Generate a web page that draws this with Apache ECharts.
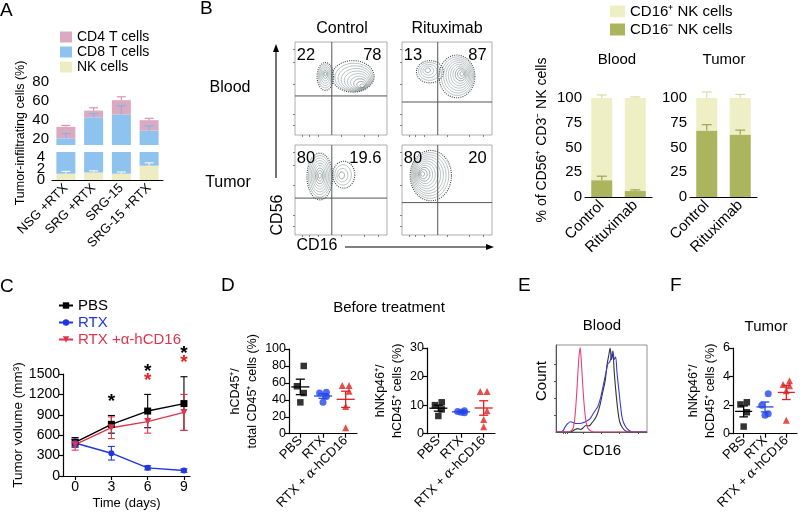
<!DOCTYPE html>
<html><head><meta charset="utf-8">
<script src="https://cdn.jsdelivr.net/npm/echarts@6.0.0/dist/echarts.min.js"></script>
<style>html,body{margin:0;padding:0;background:#fff;}#chart{width:800px;height:512px;}</style>
</head><body><div id="chart"></div>
<script>
// ===== Panel A: tumor-infiltrating cells (stacked bars, broken axis)
const aCategories = ['NSG +RTX', 'SRG +RTX', 'SRG-15', 'SRG-15 +RTX'];
const aNK = [1.1, 1.3, 1.1, 2.5];
const aCD8 = [19.9, 41.7, 44.9, 26.5];
const aCD4 = [12, 7, 15, 11];
const aNKErr = [0.4, 0.3, 0.3, 0.5];
const aCD8Err = [5, 4, 9, 5];
const aCD4Err = [1.5, 3, 3.5, 2];
const aUpperTicks = [20, 40, 60, 80];
const aLowerTicks = [0, 2, 4];

// ===== Panel B: flow cytometry plots (order: blood-control, blood-rituximab, tumor-control, tumor-rituximab)
const bFlowCols = ['Control', 'Rituximab'];
const bFlowRows = ['Blood', 'Tumor'];
const bQuadLeft = [22, 13, 80, 80];
const bQuadRight = [78, 87, 19.6, 20];
const bGateX = [40, 39.7, 40, 39.7];
const bGateY = [42, 35.5, 41, 36];
// contour blobs: [centerX, centerY, radiusX, radiusY, levels, coreX, coreY]
const bContoursBloodCtrl = [[33, 63, 9, 15, 7, 33, 66], [63, 63, 23, 17, 10, 74, 52]];
const bContoursBloodRtx = [[31, 68, 15, 12, 5, 28, 70], [61, 63, 20, 23, 10, 67, 66]];
const bContoursTumorCtrl = [[27, 65, 14, 26, 9, 27, 66], [53, 67, 12, 15, 4, 50, 66]];
const bContoursTumorRtx = [[32, 66, 23, 28, 11, 22, 68]];

// ===== Panel B: CD16 subsets bars
const bCategories = ['Control', 'Rituximab'];
const bBloodNeg = [17, 6];
const bBloodNegErr = [4, 1.2];
const bBloodPos = [83, 94];
const bBloodPosErr = [3, 1];
const bTumorNeg = [67, 63];
const bTumorNegErr = [6, 4.5];
const bTumorPos = [33, 37];
const bTumorPosErr = [6, 3.5];
const bTicks = [0, 25, 50, 75, 100];

// ===== Panel C: tumor volume
const cDays = [0, 3, 6, 9];
const cPBS = [495, 760, 955, 1065];
const cPBSErr = [70, 130, 245, 395];
const cRTX = [485, 335, 120, 80];
const cRTXErr = [55, 100, 30, 25];
const cAnti = [460, 710, 800, 935];
const cAntiErr = [80, 160, 170, 265];
const cSigPBS = [0, 1, 1, 1];
const cSigAnti = [0, 0, 1, 1];
const cTicks = [0, 3, 6, 9];

// ===== Panel D / F: dot plots
const dGroups = ['PBS', 'RTX', 'RTX + α-hCD16'];
const dLeftPBS = [80, 56, 48, 37];
const dLeftRTX = [49, 48, 44, 37];
const dLeftAnti = [57, 57, 50, 32, 7];
const dRightPBS = [11, 10, 8.5, 6.2];
const dRightRTX = [7.3, 7.8, 8, 7.5];
const dRightAnti = [14.8, 14.8, 8, 5, 2.4];
const fPBS = [2.2, 2.05, 1.5, 0.5];
const fRTX = [2.8, 2.0, 1.4, 1.3];
const fAnti = [3.7, 3.45, 3.35, 3.0, 0.95];

// ===== Panel E: CD16 histograms (x: fluorescence 0-100, y: normalized count)
const eIsotype = [[0,0],[12,0],[16,0.01],[19,0.05],[21,0.2],[23,0.5],[25,0.85],[26.5,0.99],[28,0.8],[30,0.45],[32,0.2],[34,0.07],[37,0.02],[42,0],[100,0]];
const eRTX = [[0,0],[5,0],[8,0.02],[10,0.06],[13,0.1],[16,0.12],[19,0.11],[22,0.1],[26,0.1],[30,0.11],[34,0.13],[37,0.15],[40,0.2],[43,0.25],[46,0.3],[49,0.4],[52,0.55],[55,0.7],[57,0.8],[59,0.82],[61,0.9],[62.5,0.95],[64,0.85],[65.5,0.88],[67,0.7],[69,0.5],[71,0.3],[73,0.15],[76,0.07],[80,0.02],[85,0],[100,0]];
const ePBS = [[0,0],[15,0],[18,0.01],[21,0.03],[24,0.04],[27,0.03],[30,0.05],[33,0.08],[36,0.07],[39,0.1],[42,0.14],[45,0.2],[48,0.3],[51,0.45],[54,0.6],[56,0.78],[58,0.9],[59.5,0.98],[61,0.85],[62.5,0.92],[64,0.7],[66,0.45],[68,0.25],[70,0.12],[73,0.05],[77,0.01],[82,0],[100,0]];

const FONT = 'Liberation Sans, Arial, Helvetica, sans-serif';
const grids = [], xAxes = [], yAxes = [], series = [];
function addGrid(g, xa, ya) {
  grids.push(Object.assign({containLabel: false}, g));
  const gi = grids.length - 1;
  xa.gridIndex = gi; ya.gridIndex = gi;
  xAxes.push(xa); yAxes.push(ya);
  return gi;
}
const LINE = {onZero: false, lineStyle: {color: '#000', width: 1.2}};
const TICK = {length: 4, lineStyle: {color: '#000', width: 1.2}};
function lab(fs, extra) { return Object.assign({color: '#000', fontSize: fs, fontFamily: FONT, margin: 3, hideOverlap: false}, extra || {}); }
function tick(extra) { return Object.assign({}, TICK, extra || {}); }
const NOSPLIT = {show: false};

function errRender(color, capHalf, upOnly, lw) {
  return function (params, api) {
    const x = api.value(0), y = api.value(1), e = api.value(2);
    const p0 = api.coord([x, y]);
    const p1 = api.coord([x, y + e]);
    const p2 = upOnly ? p0 : api.coord([x, y - e]);
    const st = {stroke: color, lineWidth: lw || 1.2};
    const ch = [
      {type: 'line', shape: {x1: p0[0], y1: p2[1], x2: p0[0], y2: p1[1]}, style: st},
      {type: 'line', shape: {x1: p0[0] - capHalf, y1: p1[1], x2: p0[0] + capHalf, y2: p1[1]}, style: st}
    ];
    if (!upOnly) ch.push({type: 'line', shape: {x1: p0[0] - capHalf, y1: p2[1], x2: p0[0] + capHalf, y2: p2[1]}, style: st});
    return {type: 'group', children: ch};
  };
}

// ---------- Panel A
const cA = {cd4: '#dcaac0', cd8: '#8fc3ef', nk: '#eeedc2'};
const gAU = addGrid({left: 52, top: 82, width: 111, height: 63},
  {type: 'category', data: aCategories, show: false},
  {type: 'value', min: 14, max: 80, axisLine: LINE, axisTick: tick({customValues: aUpperTicks}),
   axisLabel: lab(15, {customValues: aUpperTicks, lineHeight: 12}), splitLine: NOSPLIT});
const gAL = addGrid({left: 52, top: 152, width: 111, height: 28},
  {type: 'category', data: aCategories, axisLine: LINE, axisTick: tick({alignWithLabel: true}),
   axisLabel: lab(13, {rotate: 45, interval: 0, margin: 6})},
  {type: 'value', min: 0, max: 4.9, axisLine: LINE, axisTick: tick({customValues: aLowerTicks}),
   axisLabel: {show: false}, splitLine: NOSPLIT});
[[gAU, 'u'], [gAL, 'l']].forEach(([gi, st]) => {
  series.push({name: 'NK cells', type: 'bar', xAxisIndex: gi, yAxisIndex: gi, stack: st, barWidth: 19, data: aNK, itemStyle: {color: cA.nk}});
  series.push({name: 'CD8 T cells', type: 'bar', xAxisIndex: gi, yAxisIndex: gi, stack: st, barWidth: 19, data: aCD8, itemStyle: {color: cA.cd8}});
  series.push({name: 'CD4 T cells', type: 'bar', xAxisIndex: gi, yAxisIndex: gi, stack: st, barWidth: 19, data: aCD4, itemStyle: {color: cA.cd4}});
});
series.push({type: 'custom', xAxisIndex: gAU, yAxisIndex: gAU, z: 5, renderItem: errRender('#d696b4', 4.5, true),
  data: aCategories.map((c, i) => [i, aNK[i] + aCD8[i] + aCD4[i], aCD4Err[i]])});
series.push({type: 'custom', xAxisIndex: gAU, yAxisIndex: gAU, z: 5, renderItem: errRender('#7fb6ea', 4.5, true),
  data: aCategories.map((c, i) => [i, aNK[i] + aCD8[i], aCD8Err[i]])});
series.push({type: 'custom', xAxisIndex: gAL, yAxisIndex: gAL, z: 5, renderItem: errRender('#f6f6dc', 4.5, true),
  data: aCategories.map((c, i) => [i, aNK[i], aNKErr[i]])});

// ---------- Panel B flow plots
const flowBoxes = [
  {left: 295, top: 42, width: 92, height: 93},
  {left: 402, top: 42, width: 90, height: 93},
  {left: 295, top: 145, width: 92, height: 90},
  {left: 402, top: 145, width: 90, height: 90}
];
const flowContours = [bContoursBloodCtrl, bContoursBloodRtx, bContoursTumorCtrl, bContoursTumorRtx];
function contourRender(params, api) {
  const cx = api.value(0), cy = api.value(1), rx = api.value(2), ry = api.value(3);
  const lv = api.value(4), kx = api.value(5), ky = api.value(6);
  const ch = [];
  for (let k = 1; k <= lv; k++) {
    const f = k / lv;
    const c = api.coord([kx + (cx - kx) * f, ky + (cy - ky) * f]);
    const s = api.size([rx * f, ry * f]);
    const pts = [];
    for (let t = 0; t < 40; t++) {
      const a = t / 40 * 2 * Math.PI;
      pts.push([c[0] + s[0] * Math.cos(a), c[1] + s[1] * Math.sin(a)]);
    }
    const outer = k === lv;
    ch.push({type: 'polygon', shape: {points: pts},
      style: {fill: 'none', stroke: outer ? '#3c4444' : (f < 0.35 ? '#5d6a6a' : '#8d9b9b'), lineWidth: outer ? 1.1 : 0.6, lineDash: outer ? [1, 1.2] : null}});
  }
  return {type: 'group', children: ch};
}
const flowGrids = [];
flowBoxes.forEach((box, i) => {
  const gi = addGrid(Object.assign({show: true, borderColor: '#999', borderWidth: 0.8, backgroundColor: 'transparent'}, box),
    {type: 'value', min: 0, max: 100, axisLine: {show: false}, axisLabel: {show: false}, splitLine: NOSPLIT,
     axisTick: {show: true, length: 2, customValues: [8, 15, 25, 50, 75, 90], lineStyle: {color: '#666', width: 0.8}}},
    {type: 'value', min: 0, max: 100, axisLine: {show: false}, axisLabel: {show: false}, splitLine: NOSPLIT,
     axisTick: {show: true, length: 2, customValues: [10, 22, 55, 78, 92], lineStyle: {color: '#666', width: 0.8}}});
  flowGrids.push(gi);
  series.push({type: 'custom', xAxisIndex: gi, yAxisIndex: gi, data: flowContours[i], renderItem: contourRender, clip: true});
  series.push({type: 'custom', xAxisIndex: gi, yAxisIndex: gi, data: [[bGateX[i], bGateY[i]]], z: 4,
    renderItem: function (params, api) {
      const gx = api.value(0), gy = api.value(1);
      const a = api.coord([gx, 0]), b = api.coord([gx, 100]);
      const c = api.coord([0, gy]), d = api.coord([100, gy]);
      const st = {stroke: '#555', lineWidth: 1};
      return {type: 'group', children: [
        {type: 'line', shape: {x1: a[0], y1: a[1], x2: b[0], y2: b[1]}, style: st},
        {type: 'line', shape: {x1: c[0], y1: c[1], x2: d[0], y2: d[1]}, style: st}]};
    }});
  series.push({type: 'custom', xAxisIndex: gi, yAxisIndex: gi, data: [[bQuadLeft[i], bQuadRight[i]]], z: 6,
    renderItem: function (params, api) {
      const p = api.coord([2, 94.5]), q = api.coord([94, 94.5]);
      const st = {fill: '#000', fontSize: 16.5, fontFamily: FONT, verticalAlign: 'top'};
      return {type: 'group', children: [
        {type: 'text', x: p[0], y: p[1], style: Object.assign({text: String(api.value(0)), align: 'left'}, st)},
        {type: 'text', x: q[0], y: q[1], style: Object.assign({text: String(api.value(1)), align: 'right'}, st)}]};
    }});
});

// ---------- Panel B bars
const cB = {pos: '#efefc6', neg: '#aab55e'};
[[585, bBloodNeg, bBloodNegErr, bBloodPos, bBloodPosErr], [690, bTumorNeg, bTumorNegErr, bTumorPos, bTumorPosErr]].forEach(([left, neg, negE, pos, posE]) => {
  const gi = addGrid({left: left, top: 88, width: 67, height: 109},
    {type: 'category', data: bCategories, axisLine: LINE, axisTick: tick({alignWithLabel: true}),
     axisLabel: lab(15, {rotate: 45, interval: 0, margin: 6})},
    {type: 'value', min: 0, max: 110, axisLine: LINE, axisTick: tick({customValues: bTicks}),
     axisLabel: lab(15, {customValues: bTicks}), splitLine: NOSPLIT});
  series.push({name: 'CD16⁻ NK cells', type: 'bar', stack: 'b' + gi, xAxisIndex: gi, yAxisIndex: gi, barWidth: 21, data: neg, itemStyle: {color: cB.neg}});
  series.push({name: 'CD16⁺ NK cells', type: 'bar', stack: 'b' + gi, xAxisIndex: gi, yAxisIndex: gi, barWidth: 21, data: pos, itemStyle: {color: cB.pos}});
  series.push({type: 'custom', xAxisIndex: gi, yAxisIndex: gi, z: 5, renderItem: errRender('#9aa54e', 5, true),
    data: neg.map((v, i) => [i, v, negE[i]])});
  series.push({type: 'custom', xAxisIndex: gi, yAxisIndex: gi, z: 5, renderItem: errRender('#dcdcab', 5, true),
    data: neg.map((v, i) => [i, v + pos[i], posE[i]])});
});

// ---------- Panel C
const cC = {pbs: '#000000', rtx: '#2036e0', anti: '#e0344c'};
const gC = addGrid({left: 63, top: 374, width: 127, height: 102},
  {type: 'value', min: -1, max: 9.5, axisLine: LINE, axisTick: tick({customValues: cTicks}),
   axisLabel: lab(14, {customValues: cTicks, margin: 4}), splitLine: NOSPLIT,
   name: 'Time (days)', nameLocation: 'middle', nameGap: 21, nameTextStyle: {fontSize: 13, fontFamily: FONT, color: '#000'}},
  {type: 'value', min: 0, max: 1500, interval: 300, axisLine: LINE, axisTick: TICK, axisLabel: lab(14, {formatter: v => String(v)}), splitLine: NOSPLIT,
   name: 'Tumor volume (mm³)', nameLocation: 'middle', nameGap: 34, nameTextStyle: {fontSize: 13.5, fontFamily: FONT, color: '#000'}});
[['PBS', cPBS, cPBSErr, cC.pbs, 'rect', 7, 0], ['RTX', cRTX, cRTXErr, cC.rtx, 'circle', 6, 0], ['RTX +α-hCD16', cAnti, cAntiErr, cC.anti, 'triangle', 7, 180]].forEach(([nm, vals, errs, col, sym, sz, rot]) => {
  series.push({type: 'custom', xAxisIndex: gC, yAxisIndex: gC, z: 2, renderItem: errRender(col, 3.5, false, 1.1),
    data: cDays.map((d, i) => [d, vals[i], errs[i]])});
  series.push({name: nm, type: 'line', xAxisIndex: gC, yAxisIndex: gC, z: 3, data: cDays.map((d, i) => [d, vals[i]]),
    symbol: sym, symbolSize: sz, symbolRotate: rot, lineStyle: {color: col, width: 1.4}, itemStyle: {color: col}});
});
series.push({type: 'custom', xAxisIndex: gC, yAxisIndex: gC, z: 6,
  data: cDays.map((d, i) => [d, Math.max(cPBS[i] + cPBSErr[i], cRTX[i] + cRTXErr[i], cAnti[i] + cAntiErr[i]), cSigPBS[i], cSigAnti[i]]),
  renderItem: function (params, api) {
    const p = api.coord([api.value(0), api.value(1)]);
    const ch = [];
    let off = 4;
    if (api.value(3)) { ch.push({type: 'text', x: p[0], y: p[1] - off, style: {text: '*', fill: '#e8201f', fontSize: 19, fontWeight: 'bold', fontFamily: FONT, align: 'center', verticalAlign: 'bottom'}}); off += 9; }
    if (api.value(2)) ch.push({type: 'text', x: p[0], y: p[1] - off, style: {text: '*', fill: '#000', fontSize: 19, fontWeight: 'bold', fontFamily: FONT, align: 'center', verticalAlign: 'bottom'}});
    return {type: 'group', children: ch};
  }});

// ---------- Panels D and F (dot plots)
const JITTER = [0.15, -0.15, 0.15, 0.0, 0.0];
function meanSem(arr) {
  const n = arr.length, m = arr.reduce((s, v) => s + v, 0) / n;
  const sd = Math.sqrt(arr.reduce((s, v) => s + (v - m) * (v - m), 0) / (n - 1));
  return [m, sd / Math.sqrt(n)];
}
function meanRender(color) {
  return function (params, api) {
    const g = api.value(0), m = api.value(1), se = api.value(2);
    const a = api.coord([g - 0.4, m]), b = api.coord([g + 0.4, m]);
    const t = api.coord([g, m + se]), u = api.coord([g, m - se]);
    const cl = api.coord([g - 0.2, m]), cr = api.coord([g + 0.2, m]);
    const st = {stroke: color, lineWidth: 1.3};
    return {type: 'group', children: [
      {type: 'line', shape: {x1: a[0], y1: a[1], x2: b[0], y2: b[1]}, style: st},
      {type: 'line', shape: {x1: t[0], y1: t[1], x2: u[0], y2: u[1]}, style: st},
      {type: 'line', shape: {x1: cl[0], y1: t[1], x2: cr[0], y2: t[1]}, style: st},
      {type: 'line', shape: {x1: cl[0], y1: u[1], x2: cr[0], y2: u[1]}, style: st}]};
  };
}
const dColors = ['#000000', '#2446e8', '#e02020'];
const dSymbols = ['rect', 'circle', 'triangle'];
const dSizes = [6.5, 7, 7];
function dotPanel(box, ymax, yint, yname, gap, groups) {
  const gi = addGrid(box,
    {type: 'value', min: -0.5, max: 2.5, axisLine: LINE, axisTick: tick({customValues: [0, 1, 2]}),
     axisLabel: lab(13, {customValues: [0, 1, 2], rotate: 45, margin: 5,
       formatter: v => dGroups[Math.round(v)].replace('α', '{i|α}'),
       rich: {i: {fontStyle: 'italic', fontSize: 13, fontFamily: 'DejaVu Serif, serif', color: '#000'}}}), splitLine: NOSPLIT},
    {type: 'value', min: 0, max: ymax, interval: yint, axisLine: LINE, axisTick: TICK, axisLabel: lab(12.5), splitLine: NOSPLIT,
     name: yname, nameLocation: 'middle', nameGap: gap, nameTextStyle: {fontSize: 12.5, lineHeight: 17, fontFamily: FONT, color: '#000'}});
  groups.forEach((vals, g) => {
    series.push({type: 'scatter', xAxisIndex: gi, yAxisIndex: gi, z: 3, symbol: dSymbols[g], symbolSize: dSizes[g],
      itemStyle: {color: dColors[g]}, data: vals.map((v, i) => [g + JITTER[i % JITTER.length], v])});
    const ms = meanSem(vals);
    series.push({type: 'custom', xAxisIndex: gi, yAxisIndex: gi, z: 4, data: [[g, ms[0], ms[1]]], renderItem: meanRender(dColors[g])});
  });
}
dotPanel({left: 289, top: 349, width: 68, height: 89}, 100, 20, 'hCD45⁺/\ntotal CD45⁺ cells (%)', 24, [dLeftPBS, dLeftRTX, dLeftAnti]);
dotPanel({left: 427, top: 348, width: 68, height: 89}, 30, 10, 'hNKp46⁺/\nhCD45⁺ cells (%)', 18, [dRightPBS, dRightRTX, dRightAnti]);
dotPanel({left: 733, top: 348, width: 64, height: 89}, 6, 2, 'hNKp46⁺/\nhCD45⁺ cells (%)', 14, [fPBS, fRTX, fAnti]);

// ---------- Panel E (histograms)
const gE = addGrid({left: 556, top: 345, width: 91, height: 87, show: true, borderColor: '#777', borderWidth: 0.8},
  {type: 'value', min: 0, max: 100, axisLine: {onZero: false, lineStyle: {color: '#555', width: 1}},
   axisTick: {inside: false, length: 2, customValues: [8, 10, 12, 30, 50, 70, 90], lineStyle: {color: '#555'}}, axisLabel: {show: false}, splitLine: NOSPLIT},
  {type: 'value', min: 0, max: 1.02, axisLine: {onZero: false, lineStyle: {color: '#555', width: 1}},
   axisTick: {length: 2, customValues: [0.2, 0.4, 0.6, 0.8], lineStyle: {color: '#555'}}, axisLabel: {show: false}, splitLine: NOSPLIT});
[[ePBS, '#333333'], [eRTX, '#3a3ad8'], [eIsotype, '#e8407a']].forEach(([d, col]) => {
  series.push({type: 'line', xAxisIndex: gE, yAxisIndex: gE, data: d, smooth: 0.35, showSymbol: false, symbol: 'none',
    lineStyle: {color: col, width: 1.1}});
});

// ---------- text & decorations
function T(text, x, y, size, opts) {
  opts = opts || {};
  return {type: 'text', x: x, y: y, rotation: opts.rot || 0, z: 50,
    style: {text: text, fill: opts.color || '#000', fontSize: size, fontFamily: FONT, align: opts.align || 'center', verticalAlign: 'middle'}};
}
const R90 = {rot: Math.PI / 2};
const graphics = [
  T('A', 0, 11, 19, {align: 'left'}), T('B', 200, 9, 19, {align: 'left'}), T('C', 0, 287, 19, {align: 'left'}),
  T('D', 221, 286, 19, {align: 'left'}), T('E', 518, 286, 19, {align: 'left'}), T('F', 670, 286, 19, {align: 'left'}),
  T('Tumor-infiltrating cells (%)', 21, 133, 12.5, R90),
  T(bFlowCols[0], 342, 29, 16), T(bFlowCols[1], 447, 29, 16),
  T(bFlowRows[0], 230, 88, 16), T(bFlowRows[1], 228, 183, 16),
  T('CD56', 278, 215, 16, R90), T('CD16', 317, 246, 16),
  T('% of CD56⁺ CD3⁻ NK cells', 542, 140, 14, R90),
  T('Blood', 617, 60, 15), T('Tumor', 724, 60, 15),
  T('Before treatment', 389, 308, 15),
  T('Blood', 602, 326, 15), T('Count', 542, 381, 15, R90), T('CD16', 602, 451, 15),
  T('Tumor', 766, 327, 15),
  {type: 'line', shape: {x1: 276, y1: 178, x2: 276, y2: 50}, style: {stroke: '#000', lineWidth: 1.1}},
  {type: 'polygon', shape: {points: [[276, 44], [273, 52], [279, 52]]}, style: {fill: '#000'}},
  {type: 'line', shape: {x1: 345, y1: 247, x2: 488, y2: 247}, style: {stroke: '#000', lineWidth: 1.1}},
  {type: 'polygon', shape: {points: [[494, 247], [486, 244], [486, 250]]}, style: {fill: '#000'}}
];

const legendText = {fontSize: 14, fontFamily: FONT, color: '#000'};
const option = {
  animation: false,
  backgroundColor: '#fff',
  grid: grids, xAxis: xAxes, yAxis: yAxes, series: series,
  legend: [
    {data: ['CD4 T cells', 'CD8 T cells', 'NK cells'], orient: 'vertical', left: 60, top: 30, padding: 0,
     itemWidth: 12, itemHeight: 11, itemGap: 1, icon: 'rect', selectedMode: false, textStyle: legendText},
    {data: ['CD16⁺ NK cells', 'CD16⁻ NK cells'], orient: 'vertical', left: 610, top: 4, padding: 0,
     itemWidth: 15, itemHeight: 12, itemGap: 3, icon: 'rect', selectedMode: false, textStyle: Object.assign({}, legendText, {fontSize: 15})},
    {data: [{name: 'PBS', textStyle: {color: cC.pbs}}, {name: 'RTX', textStyle: {color: cC.rtx}}, {name: 'RTX +α-hCD16', textStyle: {color: cC.anti}}],
     orient: 'vertical', left: 58, top: 298, padding: 0, itemWidth: 14, itemHeight: 8, itemGap: 2, selectedMode: false,
     textStyle: Object.assign({}, legendText, {fontSize: 15})}
  ],
  graphic: graphics
};
const chart = echarts.init(document.getElementById('chart'));
chart.setOption(option);
// lower broken-axis segment tick labels, placed through the axis scale
const lowerLabels = aLowerTicks.map(v => {
  const p = chart.convertToPixel({xAxisIndex: gAL, yAxisIndex: gAL}, [aCategories[0], v]);
  return T(String(v), 52 - 7, p[1], 15, {align: 'right'});
});
chart.setOption({graphic: graphics.concat(lowerLabels)});
</script>
</body></html>
